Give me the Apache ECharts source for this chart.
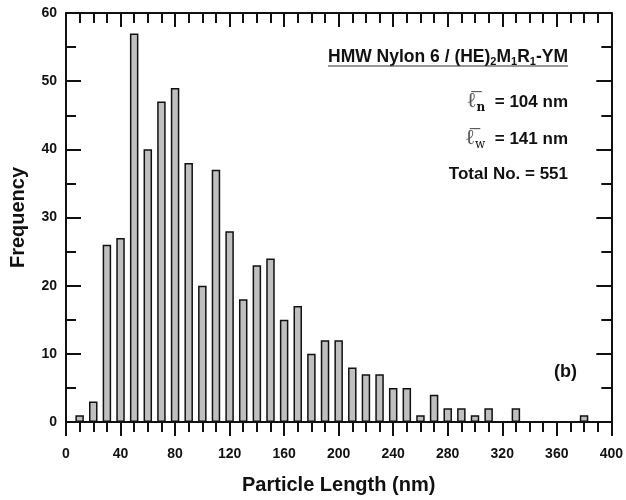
<!DOCTYPE html>
<html>
<head>
<meta charset="utf-8">
<script src="https://cdn.jsdelivr.net/npm/echarts@6/dist/echarts.min.js"></script>
<style>
  html, body { margin: 0; padding: 0; background: #fff; }
  #chart { width: 626px; height: 500px; }
</style>
</head>
<body>
<div id="chart"></div>
<script>
// bin centres (nm) and counts
const binCenters = [10, 20, 30, 40, 50, 60, 70, 80, 90, 100, 110, 120, 130, 140, 150, 160, 170, 180, 190, 200,
  210, 220, 230, 240, 250, 260, 270, 280, 290, 300, 310, 320, 330, 340, 350, 360, 370, 380]
const counts = [1, 3, 26, 27, 57, 40, 47, 49, 38, 20, 37, 28, 18, 23, 24, 15, 17, 10, 12, 12,
  8, 7, 7, 5, 5, 1, 4, 2, 2, 1, 2, 0, 2, 0, 0, 0, 0, 1]
const xTicks = { min: 0, max: 400, interval: 40 }
const yTicks = { min: 0, max: 60, interval: 10 }

const FONT = 'Liberation Sans'
const SERIF = 'DejaVu Serif'
const barData = binCenters.map((x, i) => [x, counts[i]]).filter(d => d[1] > 0)

const chart = echarts.init(document.getElementById('chart'))

const axisLine = { show: true, onZero: false, lineStyle: { color: '#111', width: 2 } }
const tickStyle = { color: '#111', width: 2 }

const option = {
  animation: false,
  backgroundColor: '#fff',
  grid: { left: 66, right: 13, top: 13, bottom: 78, containLabel: false },
  xAxis: [
    {
      type: 'value',
      position: 'bottom',
      min: xTicks.min, max: xTicks.max, interval: xTicks.interval,
      axisLine: axisLine,
      axisTick: { show: true, inside: false, length: 14, lineStyle: tickStyle },
      minorTick: { show: true, splitNumber: 4, length: 10, lineStyle: tickStyle },
      splitLine: { show: false },
      axisLabel: { margin: 25, fontFamily: FONT, fontWeight: 'bold', fontSize: 14, color: '#111' },
      name: 'Particle Length (nm)',
      nameLocation: 'middle',
      nameGap: 53,
      nameTextStyle: { fontFamily: FONT, fontWeight: 'bold', fontSize: 20, color: '#111' }
    },
    {
      type: 'value',
      position: 'top',
      min: xTicks.min, max: xTicks.max, interval: xTicks.interval,
      axisLine: axisLine,
      axisTick: { show: true, inside: true, length: 14, lineStyle: tickStyle },
      minorTick: { show: true, splitNumber: 4, length: 10, lineStyle: tickStyle },
      splitLine: { show: false },
      axisLabel: { show: false }
    }
  ],
  yAxis: [
    {
      type: 'value',
      position: 'left',
      min: yTicks.min, max: yTicks.max, interval: yTicks.interval,
      axisLine: axisLine,
      axisTick: { show: true, inside: true, length: 15, lineStyle: tickStyle },
      minorTick: { show: true, splitNumber: 2, length: 10, lineStyle: tickStyle },
      splitLine: { show: false },
      axisLabel: { margin: 9, fontFamily: FONT, fontWeight: 'bold', fontSize: 14, color: '#111' },
      name: 'Frequency',
      nameLocation: 'middle',
      nameGap: 38,
      nameTextStyle: { fontFamily: FONT, fontWeight: 'bold', fontSize: 20, color: '#111' }
    },
    {
      type: 'value',
      position: 'right',
      min: yTicks.min, max: yTicks.max, interval: yTicks.interval,
      axisLine: axisLine,
      axisTick: { show: true, inside: true, length: 15, lineStyle: tickStyle },
      minorTick: { show: true, splitNumber: 2, length: 10, lineStyle: tickStyle },
      splitLine: { show: false },
      axisLabel: { show: false }
    }
  ],
  series: [
    {
      type: 'bar',
      xAxisIndex: 0,
      yAxisIndex: 0,
      data: barData,
      barWidth: 8.5,
      itemStyle: { color: '#bfbfbf', borderColor: '#111', borderWidth: 1.5 }
    }
  ],
  graphic: [
    {
      type: 'text',
      x: 568, y: 57,
      style: {
        text: '{m|HMW Nylon 6 / (HE)}{s|2}{m|M}{s|1}{m|R}{s|1}{m|-YM}',
        align: 'right', verticalAlign: 'middle',
        rich: {
          m: { fontFamily: FONT, fontWeight: 'bold', fontSize: 17.5, lineHeight: 20, fill: '#111' },
          s: { fontFamily: FONT, fontWeight: 'bold', fontSize: 11, lineHeight: 20, padding: [8, 0, 0, 0], verticalAlign: 'bottom', fill: '#111' }
        }
      }
    },
    {
      type: 'line',
      shape: { x1: 328, y1: 66, x2: 568, y2: 66 },
      style: { stroke: '#333', lineWidth: 1.2 }
    },
    {
      type: 'text',
      x: 568, y: 102,
      style: {
        text: '{l|\u2113\u0305}{n|n}{m|  = 104 nm}',
        align: 'right', verticalAlign: 'middle',
        rich: {
          l: { fontFamily: SERIF, fontSize: 21, lineHeight: 24, fill: '#555' },
          n: { fontFamily: SERIF, fontWeight: 'bold', fontSize: 12, lineHeight: 24, padding: [12, 0, 0, 0], verticalAlign: 'bottom', fill: '#111' },
          m: { fontFamily: FONT, fontWeight: 'bold', fontSize: 17, lineHeight: 24, fill: '#111' }
        }
      }
    },
    {
      type: 'text',
      x: 568, y: 139,
      style: {
        text: '{l|\u2113\u0305}{n|w}{m|  = 141 nm}',
        align: 'right', verticalAlign: 'middle',
        rich: {
          l: { fontFamily: SERIF, fontSize: 21, lineHeight: 24, fill: '#555' },
          n: { fontFamily: SERIF, fontSize: 12, lineHeight: 24, padding: [12, 0, 0, 0], verticalAlign: 'bottom', fill: '#111' },
          m: { fontFamily: FONT, fontWeight: 'bold', fontSize: 17, lineHeight: 24, fill: '#111' }
        }
      }
    },
    {
      type: 'text',
      x: 568, y: 174,
      style: {
        text: 'Total No. = 551',
        align: 'right', verticalAlign: 'middle',
        fontFamily: FONT, fontWeight: 'bold', fontSize: 17, fill: '#111'
      }
    },
    {
      type: 'text',
      x: 577, y: 372,
      style: {
        text: '(b)',
        align: 'right', verticalAlign: 'middle',
        fontFamily: FONT, fontWeight: 'bold', fontSize: 18, fill: '#111'
      }
    }
  ]
}

chart.setOption(option)
</script>
</body>
</html>
